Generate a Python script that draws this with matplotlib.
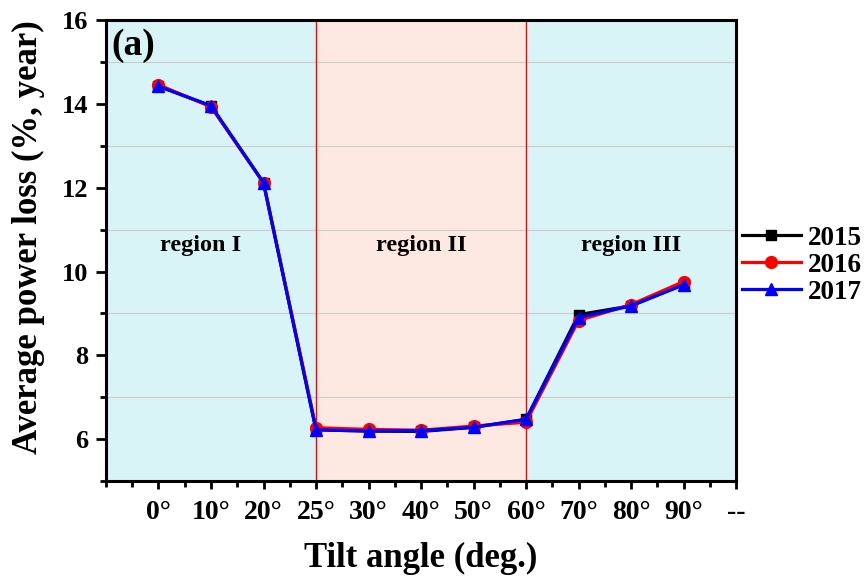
import numpy as np
import matplotlib.pyplot as plt
from matplotlib.ticker import MultipleLocator

# Tilt angle categories (equally spaced on the axis)
angles = ['0°', '10°', '20°', '25°', '30°', '40°', '50°', '60°', '70°', '80°', '90°']
tick_labels = angles + ['--']

# Average power loss (%, year)
loss_2015 = [14.43, 13.95, 12.12, 6.22, 6.19, 6.18, 6.28, 6.47, 8.97, 9.18, 9.70]
loss_2016 = [14.46, 13.93, 12.12, 6.27, 6.23, 6.21, 6.31, 6.40, 8.83, 9.21, 9.76]
loss_2017 = [14.42, 13.96, 12.12, 6.22, 6.19, 6.20, 6.28, 6.47, 8.90, 9.18, 9.68]

plt.rcParams['font.family'] = ['Liberation Serif', 'DejaVu Serif']
plt.rcParams['font.weight'] = 'bold'

fig = plt.figure(figsize=(8.65, 5.78), dpi=100)
ax = fig.add_axes([0.1225, 0.168, 0.7285, 0.797])

x = np.arange(len(angles))

# Background regions
ax.axvspan(-1, 3, color='#d8f4f6', zorder=0)
ax.axvspan(3, 7, color='#fde9e1', zorder=0)
ax.axvspan(7, 11, color='#d8f4f6', zorder=0)
ax.axvline(3, color='red', lw=1.0, zorder=1)
ax.axvline(7, color='red', lw=1.0, zorder=1)

# Horizontal grid at the minor y ticks
for yv in [7, 9, 11, 13, 15]:
    ax.axhline(yv, color='#cccccc', lw=0.8, zorder=0.5)

ax.plot(x, loss_2015, color='black', marker='s', ms=6.5, lw=2.3, label='2015', zorder=3)
ax.plot(x, loss_2016, color='red', marker='o', ms=8.5, lw=2.3, label='2016', zorder=4)
ax.plot(x, loss_2017, color='blue', marker='^', ms=8.5, lw=2.3, label='2017', zorder=5)

ax.set_xlim(-1, 11)
ax.set_ylim(5, 16)
ax.set_xticks(np.arange(len(tick_labels)))
ax.set_xticklabels(tick_labels)
ax.xaxis.set_minor_locator(MultipleLocator(0.5))
ax.set_yticks([6, 8, 10, 12, 14, 16])
ax.yaxis.set_minor_locator(MultipleLocator(1))

ax.tick_params(axis='x', which='major', direction='out', length=6, width=2,
               labelsize=20, pad=8)
ax.tick_params(axis='y', which='major', direction='out', length=7, width=2,
               labelsize=19, pad=6)
ax.tick_params(axis='both', which='minor', direction='out', length=4, width=2)
for lab in ax.get_xticklabels() + ax.get_yticklabels():
    lab.set_fontweight('bold')

for sp in ax.spines.values():
    sp.set_linewidth(2.2)

ax.set_xlabel('Tilt angle (deg.)', fontsize=25, fontweight='bold')
ax.set_ylabel('Average power loss (%, year)', fontsize=25, fontweight='bold')
ax.xaxis.set_label_coords(0.5, -0.133)
ax.yaxis.set_label_coords(-0.096, 0.53)

ax.text(-0.9, 15.4, '(a)', fontsize=27, fontweight='bold', va='center', ha='left')
ax.text(0.8, 10.62, 'region I', fontsize=17.5, fontweight='bold', ha='center', va='center')
ax.text(5, 10.62, 'region II', fontsize=17.5, fontweight='bold', ha='center', va='center')
ax.text(9, 10.62, 'region III', fontsize=17.5, fontweight='bold', ha='center', va='center')

ax.legend(loc='center left', bbox_to_anchor=(1.0, 0.468), frameon=False,
          handlelength=2.2, handletextpad=0.25, labelspacing=0.07,
          borderaxespad=0, borderpad=0.2, prop={'weight': 'bold', 'size': 19.5})

fig.savefig('out.png', dpi=100)
